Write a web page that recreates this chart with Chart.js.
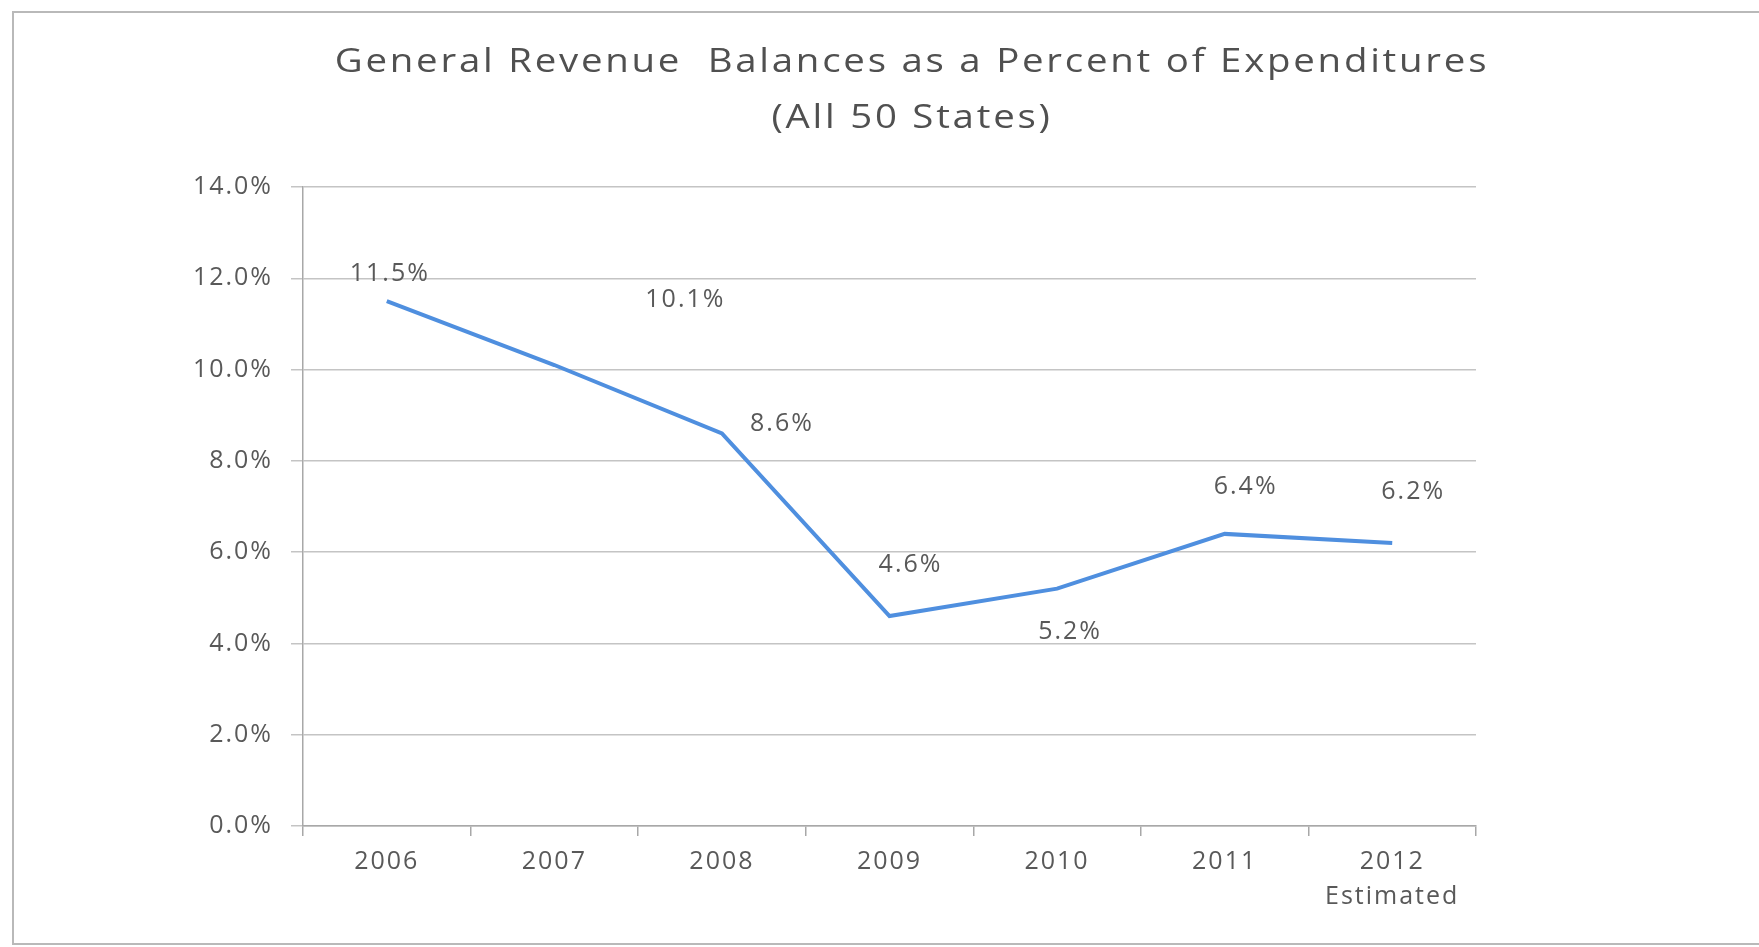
<!DOCTYPE html>
<html>
<head>
<meta charset="utf-8">
<script src="https://cdn.jsdelivr.net/npm/chart.js@4"></script>
<style>
  html, body { margin: 0; padding: 0; background: #fff; overflow: hidden; width: 1759px; height: 947px; }
  #frame {
    position: absolute; left: 12px; top: 11px;
    width: 1796px; height: 930px;
    border: 2px solid #b9b9b9;
  }
  #chart { display: block; }
</style>
</head>
<body>
<div id="frame"><canvas id="chart" width="1796" height="930"></canvas></div>
<script>
// years on the x axis, last one is a projection
const years = ['2006', '2007', '2008', '2009', '2010', '2011', ['2012', 'Estimated']];
// general revenue balance, % of expenditures
const balances = [11.5, 10.1, 8.6, 4.6, 5.2, 6.4, 6.2];
// y axis range and step (percent)
const yMin = 0;
const yMax = 14;
const yStep = 2;

const titleLines = ['General Revenue  Balances as a Percent of Expenditures', '(All 50 States)'];

// where each value label sits relative to its point (px)
const labelOffsets = [[3, -27], [131, -65], [60, -10], [21, -51], [13, 43], [21, -47], [21, -51]];

const textColor = '#595959';
const fontFamily = '"Open Sans", "Liberation Sans", sans-serif';

// the old chart's text is set fairly loose, so space letters out a bit
const spacing = {
  id: 'spacing',
  beforeDraw(chart) {
    chart.ctx.letterSpacing = '2px';
  }
};

// two-line heading, centred over the whole canvas, drawn a little wide
const heading = {
  id: 'heading',
  afterDraw(chart) {
    const ctx = chart.ctx;
    ctx.save();
    ctx.letterSpacing = '2.3px';
    ctx.font = '32px ' + fontFamily;
    ctx.fillStyle = '#505050';
    ctx.textAlign = 'center';
    ctx.textBaseline = 'middle';
    titleLines.forEach((line, i) => {
      ctx.save();
      ctx.translate(chart.width / 2, 50 + i * 56);
      ctx.scale(1.2, 1);
      ctx.fillText(line, 0, 0);
      ctx.restore();
    });
    ctx.restore();
  }
};

// writes the value next to each point
const valueLabels = {
  id: 'valueLabels',
  afterDatasetsDraw(chart) {
    const ctx = chart.ctx;
    const meta = chart.getDatasetMeta(0);
    ctx.save();
    ctx.font = '25px ' + fontFamily;
    ctx.fillStyle = textColor;
    ctx.textAlign = 'center';
    ctx.textBaseline = 'middle';
    meta.data.forEach((pt, i) => {
      const off = labelOffsets[i];
      ctx.fillText(balances[i].toFixed(1) + '%', pt.x + off[0], pt.y + off[1]);
    });
    ctx.restore();
  }
};

const canvas = document.getElementById('chart');

new Chart(canvas, {
  type: 'line',
  data: {
    labels: years,
    datasets: [{
      label: 'Balances',
      data: balances,
      borderColor: '#4f8fdf',
      borderWidth: 4,
      pointRadius: 0,
      tension: 0,
      fill: false,
    }],
  },
  options: {
    responsive: false,
    animation: false,
    layout: { padding: { left: 0, right: 334, top: 174, bottom: 0 } },
    scales: {
      x: {
        offset: true,
        grid: {
          display: true,
          offset: true,
          drawOnChartArea: false,
          drawTicks: true,
          tickLength: 10,
          color: '#a8a8a8',
          lineWidth: 1.5,
        },
        border: { color: '#a8a8a8', width: 1.5 },
        ticks: {
          color: textColor,
          padding: 8,
          maxRotation: 0,
          autoSkip: false,
          font: { size: 25, family: fontFamily, lineHeight: 1.4 },
        },
        afterFit(scale) { scale.height = 117; },
      },
      y: {
        min: yMin,
        max: yMax,
        grid: {
          color: '#c4c4c4',
          lineWidth: 1.5,
          tickLength: 12,
        },
        border: { color: '#a8a8a8', width: 1.5 },
        ticks: {
          stepSize: yStep,
          color: textColor,
          padding: 18,
          font: { size: 25, family: fontFamily },
          callback: v => Number(v).toFixed(1) + '%',
        },
        afterFit(scale) { scale.width = 289; },
      },
    },
    plugins: {
      legend: { display: false },
      tooltip: { enabled: false },
      title: { display: false },
    },
  },
  plugins: [spacing, valueLabels, heading],
});
</script>
</body>
</html>
